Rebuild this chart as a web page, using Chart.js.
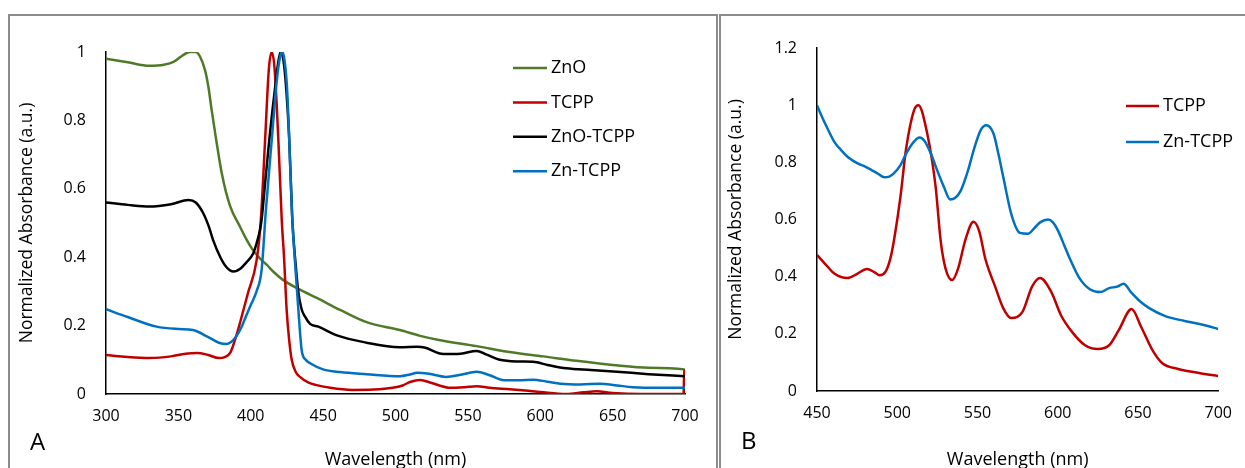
<!DOCTYPE html>
<html>
<head>
<meta charset="utf-8">
<script src="https://cdn.jsdelivr.net/npm/chart.js@4"></script>
<style>
  body { margin: 0; width: 1245px; height: 468px; overflow: hidden; background: #fff; font-family: "Open Sans", sans-serif; }
  .panel { position: absolute; top: 14px; height: 500px; border: 2px solid #8c8c8c; box-sizing: border-box; }
  #panelA { left: 8px; width: 710px; }
  #panelB { left: 719px; width: 560px; }
  canvas { position: absolute; }
  .tag { position: absolute; font-size: 24px; color: #000; line-height: 1; }
</style>
</head>
<body>
<div class="panel" id="panelA"></div>
<div class="panel" id="panelB"></div>
<canvas id="chartA" width="709" height="460" style="left:8px;top:14px"></canvas>
<canvas id="chartB" width="525" height="460" style="left:720px;top:14px"></canvas>
<div class="tag" style="left:30px;top:429px">A</div>
<div class="tag" style="left:741px;top:428px">B</div>
<script>
// ===== Panel A data =====
const znoWl = [300, 315, 330, 340, 347, 353, 358, 362, 365, 368.4, 370.7, 373, 376.5, 380, 385.7, 392.6, 397, 401.6, 406, 411, 416, 422.5, 434, 446, 461.7, 480, 503, 517, 530, 556, 580, 602, 625, 650, 675, 699.5, 700];
const znoAbs = [0.98, 0.97, 0.96, 0.963, 0.972, 0.99, 1.0, 1.0, 0.986, 0.947, 0.899, 0.83, 0.733, 0.645, 0.55, 0.489, 0.452, 0.42, 0.398, 0.378, 0.356, 0.333, 0.305, 0.28, 0.246, 0.21, 0.187, 0.17, 0.158, 0.14, 0.122, 0.11, 0.097, 0.085, 0.077, 0.072, 0];

const tcppWl = [300, 315, 330, 345, 355, 363, 370, 378, 382, 386, 390, 393, 398, 404, 407, 410, 412.5, 414.5, 416.5, 419, 421.4, 423, 424.8, 426.5, 428.3, 431, 434, 440, 445.5, 455, 470, 485, 498, 505, 510, 517, 525, 538, 548, 556, 565, 579, 590, 600, 618, 630, 639, 650, 670, 699, 699.5, 700];
const tcppAbs = [0.114, 0.108, 0.105, 0.11, 0.118, 0.12, 0.115, 0.105, 0.108, 0.122, 0.17, 0.215, 0.294, 0.39, 0.51, 0.75, 0.95, 1.0, 0.95, 0.75, 0.51, 0.4, 0.246, 0.16, 0.1, 0.065, 0.05, 0.033, 0.026, 0.018, 0.012, 0.013, 0.018, 0.025, 0.035, 0.041, 0.032, 0.018, 0.02, 0.023, 0.018, 0.014, 0.01, 0.006, 0.0, 0.005, 0.008, 0.003, 0.0, 0.0, 0.07, 0];

const zntWl = [300, 315, 330, 345, 357, 362, 367, 371, 374, 379, 383, 388, 393, 397, 401.6, 404, 406.4, 407.5, 410, 412.8, 415, 417.4, 419, 420.6, 422, 424, 426.6, 428.7, 431, 432.7, 435, 437.5, 441, 446.7, 459, 480, 503, 515, 520, 533, 545, 556, 563, 572, 585, 595, 605, 618, 635, 653, 675, 700];
const zntAbs = [0.56, 0.553, 0.548, 0.555, 0.567, 0.56, 0.53, 0.49, 0.45, 0.4, 0.372, 0.358, 0.367, 0.385, 0.41, 0.44, 0.48, 0.51, 0.62, 0.743, 0.83, 0.917, 0.97, 1.0, 0.99, 0.92, 0.743, 0.509, 0.38, 0.304, 0.25, 0.226, 0.205, 0.197, 0.172, 0.15, 0.137, 0.138, 0.136, 0.117, 0.118, 0.126, 0.115, 0.1, 0.095, 0.094, 0.085, 0.075, 0.07, 0.065, 0.058, 0.052];

const znWl = [300, 315, 335, 350, 360, 370, 378, 383, 388, 393, 397, 400, 404, 407.5, 410.5, 414.5, 418, 420, 421.4, 423, 425, 426.6, 428.5, 431, 432.9, 435.2, 438, 441, 450, 461.7, 480, 503, 510, 515, 522, 535, 545, 556, 565, 575, 585, 595, 605, 614, 628, 641, 653, 664, 680, 700];
const znAbs = [0.248, 0.225, 0.197, 0.19, 0.187, 0.168, 0.15, 0.146, 0.158, 0.19, 0.23, 0.26, 0.3, 0.363, 0.54, 0.743, 0.917, 0.98, 1.0, 0.985, 0.9, 0.743, 0.53, 0.36, 0.246, 0.128, 0.1, 0.09, 0.072, 0.064, 0.058, 0.052, 0.057, 0.062, 0.06, 0.05, 0.056, 0.065, 0.055, 0.04, 0.04, 0.042, 0.036, 0.03, 0.028, 0.03, 0.025, 0.02, 0.018, 0.018];

// ===== Panel B data =====
const tcppBWl = [450, 455, 461, 469, 475, 481, 486, 489, 493, 496, 498, 502, 505.4, 510.5, 513.2, 518.7, 523.9, 527, 530, 534.2, 538, 542.4, 547.5, 551, 555, 561, 566, 571, 578, 584, 589, 596, 602, 609, 617, 625, 632, 638, 646, 652, 659, 665, 675, 688, 700];
const tcppBAbs = [0.476, 0.445, 0.41, 0.395, 0.41, 0.427, 0.415, 0.405, 0.42, 0.47, 0.528, 0.68, 0.843, 0.983, 1.0, 0.9, 0.715, 0.528, 0.43, 0.388, 0.43, 0.528, 0.592, 0.56, 0.46, 0.365, 0.29, 0.255, 0.277, 0.365, 0.395, 0.346, 0.265, 0.206, 0.16, 0.147, 0.16, 0.213, 0.287, 0.224, 0.143, 0.098, 0.077, 0.063, 0.052];

const znBWl = [450, 453, 457, 461, 465, 470, 475, 480, 484, 488, 492, 495, 498, 502, 505.5, 510, 514, 517, 521, 525, 529, 533, 536, 539.5, 544, 548, 552, 555.5, 560, 563, 566, 571, 576.5, 581.5, 585, 589, 594, 597, 600, 604, 607, 613.5, 620, 626.5, 632, 637, 641, 646, 651, 657, 667, 679, 691, 700];
const znBAbs = [1.0, 0.96, 0.913, 0.87, 0.843, 0.815, 0.797, 0.785, 0.773, 0.76, 0.748, 0.75, 0.762, 0.79, 0.83, 0.87, 0.887, 0.875, 0.83, 0.77, 0.715, 0.67, 0.675, 0.7, 0.77, 0.85, 0.913, 0.93, 0.9, 0.83, 0.75, 0.62, 0.553, 0.55, 0.567, 0.59, 0.6, 0.59, 0.563, 0.51, 0.47, 0.395, 0.356, 0.346, 0.36, 0.365, 0.375, 0.343, 0.315, 0.29, 0.262, 0.245, 0.231, 0.217];

const ticksA = [300, 350, 400, 450, 500, 550, 600, 650, 700];
const ticksB = [450, 500, 550, 600, 650, 700];

const GREEN = '#4f7a28', RED = '#c00000', BLACK = '#000000', BLUE = '#0070c0';

Chart.defaults.font.family = '"Open Sans", sans-serif';
Chart.defaults.color = '#000';

function pts(xs, ys) {
    return xs.map((x, i) => ({ x: x, y: ys[i] }));
}

function series(label, xs, ys, color, order) {
    return {
        label: label,
        data: pts(xs, ys),
        borderColor: color,
        backgroundColor: color,
        borderWidth: 2.5,
        pointRadius: 0,
        cubicInterpolationMode: 'monotone',
        order: order
    };
}

// legend drawn by hand next to the curves
const sideLegend = {
    id: 'sideLegend',
    afterDraw(chart, args, opts) {
        const ctx = chart.ctx;
        ctx.save();
        ctx.font = '18px "Open Sans", sans-serif';
        ctx.textBaseline = 'middle';
        ctx.textAlign = 'left';
        chart.data.datasets.forEach((ds, i) => {
            const y = opts.y + i * opts.gap;
            ctx.strokeStyle = ds.borderColor;
            ctx.lineWidth = 2.5;
            ctx.beginPath();
            ctx.moveTo(opts.x, y);
            ctx.lineTo(opts.x + opts.len, y);
            ctx.stroke();
            ctx.fillStyle = '#000';
            ctx.fillText(ds.label, opts.x + opts.len + 4, y);
        });
        ctx.restore();
    }
};

function makeOptions(cfg) {
    return {
        responsive: false,
        animation: false,
        devicePixelRatio: 1,
        layout: { padding: { left: 0, top: cfg.top, right: cfg.right, bottom: 0 } },
        plugins: {
            legend: { display: false },
            tooltip: { enabled: false },
            sideLegend: cfg.legend
        },
        scales: {
            x: {
                type: 'linear',
                min: cfg.xmin, max: cfg.xmax,
                afterBuildTicks: (s) => { s.ticks = cfg.xticks.map(v => ({ value: v })); },
                afterFit: (s) => { s.height = cfg.xh; },
                grid: { display: false, drawTicks: false },
                border: { display: true, color: '#000', width: 1.5 },
                ticks: { padding: 13, font: { size: 16 }, color: '#000', maxRotation: 0 },
                title: { display: true, text: 'Wavelength (nm)', font: { size: 18 }, color: '#000', padding: { top: 0, bottom: 3 } }
            },
            y: {
                min: 0, max: cfg.ymax,
                ticks: {
                    stepSize: 0.2, padding: 20, font: { size: 16 }, color: '#000',
                    callback: (v) => String(Number(v.toFixed(1)))
                },
                afterFit: (s) => { s.width = cfg.yw; },
                grid: { display: false, drawTicks: false },
                border: { display: true, color: '#000', width: 1.5 },
                title: { display: true, text: 'Normalized Absorbance (a.u.)', font: { size: 17.5 }, color: '#000', padding: { top: cfg.ytp, bottom: 0 } }
            }
        }
    };
}

new Chart(document.getElementById('chartA'), {
    type: 'line',
    data: {
        datasets: [
            series('ZnO', znoWl, znoAbs, GREEN, 4),
            series('TCPP', tcppWl, tcppAbs, RED, 3),
            series('ZnO-TCPP', zntWl, zntAbs, BLACK, 2),
            series('Zn-TCPP', znWl, znAbs, BLUE, 1)
        ]
    },
    options: makeOptions({
        top: 38, right: 32, xh: 80, yw: 98, ytp: 9, xmin: 300, xmax: 700, ymax: 1, xticks: ticksA,
        legend: { x: 505, y: 54, gap: 34.4, len: 34 }
    }),
    plugins: [sideLegend]
});

new Chart(document.getElementById('chartB'), {
    type: 'line',
    data: {
        datasets: [
            series('TCPP', tcppBWl, tcppBAbs, RED, 2),
            series('Zn-TCPP', znBWl, znBAbs, BLUE, 1)
        ]
    },
    options: makeOptions({
        top: 34, right: 23, xh: 83, yw: 97, ytp: 6, xmin: 450, xmax: 700, ymax: 1.2, xticks: ticksB,
        legend: { x: 406, y: 92, gap: 36, len: 33 }
    }),
    plugins: [sideLegend]
});
</script>
</body>
</html>
